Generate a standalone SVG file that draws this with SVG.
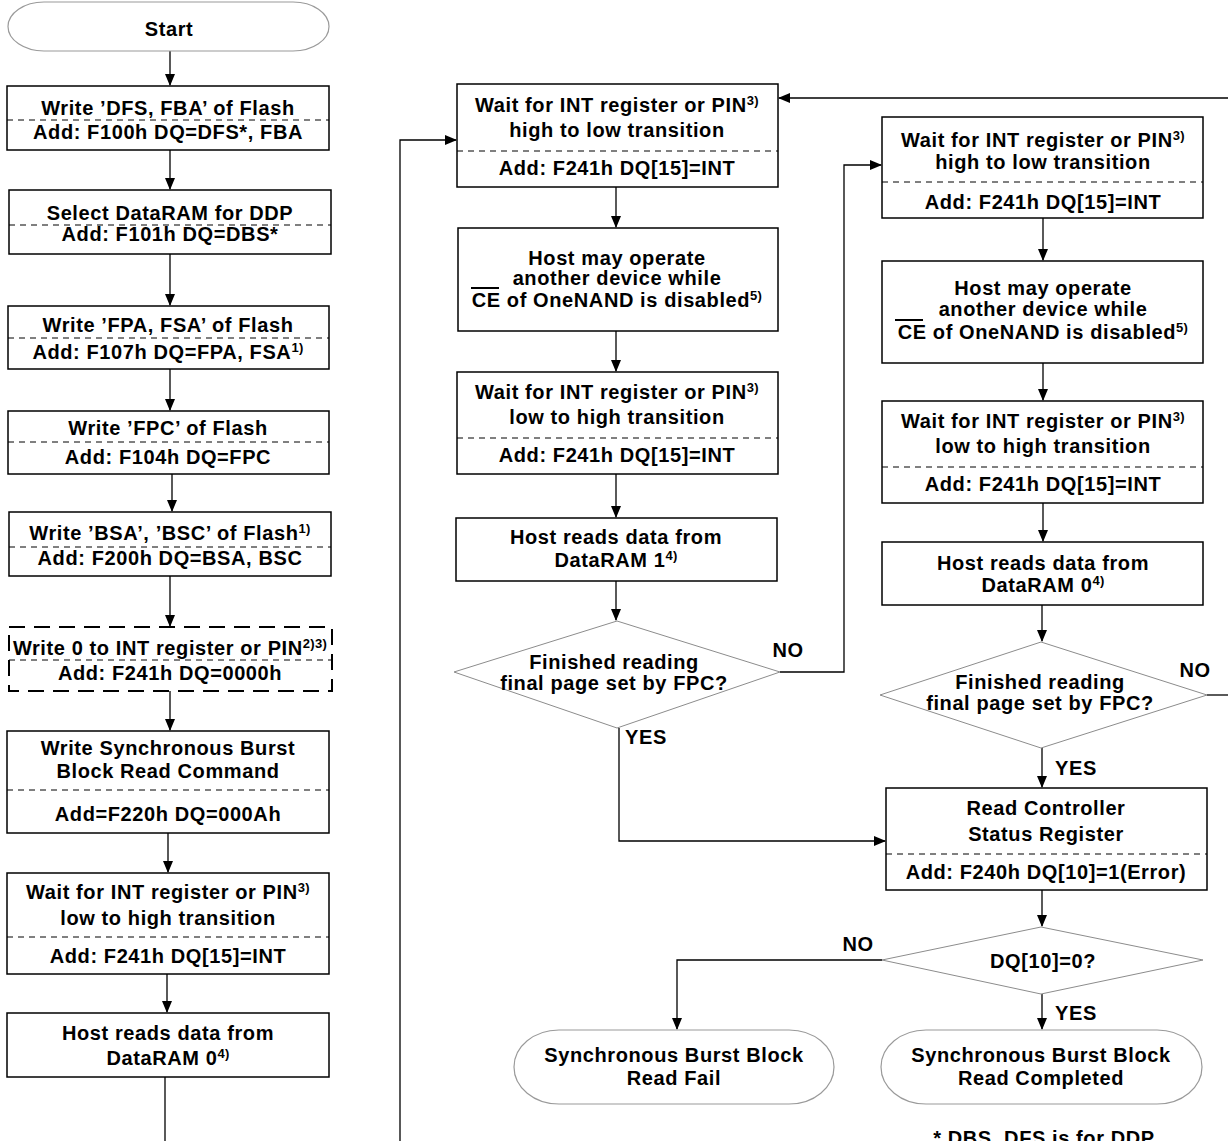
<svg xmlns="http://www.w3.org/2000/svg" width="1228" height="1141" viewBox="0 0 1228 1141">
<style>
.box{fill:#fff;stroke:#000;stroke-width:1.5}
.dbox{fill:#fff;stroke:#000;stroke-width:2;stroke-dasharray:16 9}
.sep{stroke:#000;stroke-width:1;stroke-dasharray:6 5;fill:none}
.term{fill:#fff;stroke:#9a9a9a;stroke-width:1.2}
.dia{fill:#fff;stroke:#8c8c8c;stroke-width:1}
.t{font-family:"Liberation Sans",Arial,Helvetica,sans-serif;font-weight:bold;font-size:20px;letter-spacing:0.6px;text-anchor:middle;fill:#000}
.l{text-anchor:start}
.sup{font-size:13px;letter-spacing:0.3px}
.conn{fill:none;stroke:#000;stroke-width:1.3}
.ov{stroke:#000;stroke-width:2}
</style>
<defs>
<marker id="arr" markerUnits="userSpaceOnUse" markerWidth="12" markerHeight="10" refX="11" refY="5" orient="auto">
<path d="M0,0 L12,5 L0,10 Z" fill="#000"/>
</marker>
</defs>

<g id="connectors">
<path class="conn" d="M170 51 V85" marker-end="url(#arr)"/>
<path class="conn" d="M170 150 V189" marker-end="url(#arr)"/>
<path class="conn" d="M170 254 V305" marker-end="url(#arr)"/>
<path class="conn" d="M170 369 V410" marker-end="url(#arr)"/>
<path class="conn" d="M172 474 V511" marker-end="url(#arr)"/>
<path class="conn" d="M170 576 V626" marker-end="url(#arr)"/>
<path class="conn" d="M170 691 V730" marker-end="url(#arr)"/>
<path class="conn" d="M168 833 V872" marker-end="url(#arr)"/>
<path class="conn" d="M167 974 V1012" marker-end="url(#arr)"/>
<path class="conn" d="M165 1077 V1141"/>
<path class="conn" d="M400 1141 V140 H456" marker-end="url(#arr)"/>
<path class="conn" d="M1228 98 H779" marker-end="url(#arr)"/>
<path class="conn" d="M1207 695 H1228"/>
<path class="conn" d="M616 187 V227" marker-end="url(#arr)"/>
<path class="conn" d="M616 331 V371" marker-end="url(#arr)"/>
<path class="conn" d="M616 474 V517" marker-end="url(#arr)"/>
<path class="conn" d="M616 581 V620" marker-end="url(#arr)"/>
<path class="conn" d="M780 672 H844 V165 H881" marker-end="url(#arr)"/>
<path class="conn" d="M619 728 V841 H885" marker-end="url(#arr)"/>
<path class="conn" d="M1043 218 V260" marker-end="url(#arr)"/>
<path class="conn" d="M1043 363 V400" marker-end="url(#arr)"/>
<path class="conn" d="M1043 503 V541" marker-end="url(#arr)"/>
<path class="conn" d="M1042 605 V641" marker-end="url(#arr)"/>
<path class="conn" d="M1042 748 V787" marker-end="url(#arr)"/>
<path class="conn" d="M1042 890 V926" marker-end="url(#arr)"/>
<path class="conn" d="M882 960 H677 V1029" marker-end="url(#arr)"/>
<path class="conn" d="M1042 994 V1029" marker-end="url(#arr)"/>
</g>

<g id="start">
<rect class="term" x="8" y="2" width="321" height="49" rx="36" ry="24.5"/>
<text class="t" x="169" y="36">Start</text>
</g>

<g id="b1">
<rect class="box" x="7" y="86" width="322" height="64"/>
<line class="sep" x1="7" y1="120" x2="329" y2="120"/>
<text class="t" x="168" y="115">Write ’DFS, FBA’ of Flash</text>
<text class="t" x="168" y="139">Add: F100h DQ=DFS*, FBA</text>
</g>

<g id="b2">
<rect class="box" x="9" y="190" width="322" height="64"/>
<line class="sep" x1="9" y1="225" x2="331" y2="225"/>
<text class="t" x="170" y="220">Select DataRAM for DDP</text>
<text class="t" x="170" y="241">Add: F101h DQ=DBS*</text>
</g>

<g id="b3">
<rect class="box" x="8" y="306" width="321" height="63"/>
<line class="sep" x1="8" y1="338" x2="329" y2="338"/>
<text class="t" x="168" y="332">Write ’FPA, FSA’ of Flash</text>
<text class="t" x="168" y="359">Add: F107h DQ=FPA, FSA<tspan class="sup" dy="-7">1)</tspan></text>
</g>

<g id="b4">
<rect class="box" x="8" y="411" width="321" height="63"/>
<line class="sep" x1="8" y1="442" x2="329" y2="442"/>
<text class="t" x="168" y="435">Write ’FPC’ of Flash</text>
<text class="t" x="168" y="464">Add: F104h DQ=FPC</text>
</g>

<g id="b5">
<rect class="box" x="9" y="512" width="322" height="64"/>
<line class="sep" x1="9" y1="547" x2="331" y2="547"/>
<text class="t" x="170" y="540">Write ’BSA’, ’BSC’ of Flash<tspan class="sup" dy="-7">1)</tspan></text>
<text class="t" x="170" y="565">Add: F200h DQ=BSA, BSC</text>
</g>

<g id="b6">
<rect class="dbox" x="9" y="627" width="323" height="64"/>
<line class="sep" x1="9" y1="660" x2="332" y2="660"/>
<text class="t" x="170" y="655">Write 0 to INT register or PIN<tspan class="sup" dy="-7">2)3)</tspan></text>
<text class="t" x="170" y="680">Add: F241h DQ=0000h</text>
</g>

<g id="b7">
<rect class="box" x="7" y="731" width="322" height="102"/>
<line class="sep" x1="7" y1="790" x2="329" y2="790"/>
<text class="t" x="168" y="755">Write Synchronous Burst</text>
<text class="t" x="168" y="778">Block Read Command</text>
<text class="t" x="168" y="821">Add=F220h DQ=000Ah</text>
</g>

<g id="b8">
<rect class="box" x="7" y="873" width="322" height="101"/>
<line class="sep" x1="7" y1="937" x2="329" y2="937"/>
<text class="t" x="168" y="899">Wait for INT register or PIN<tspan class="sup" dy="-7">3)</tspan></text>
<text class="t" x="168" y="925">low to high transition</text>
<text class="t" x="168" y="963">Add: F241h DQ[15]=INT</text>
</g>

<g id="b9">
<rect class="box" x="7" y="1013" width="322" height="64"/>
<text class="t" x="168" y="1040">Host reads data from</text>
<text class="t" x="168" y="1065">DataRAM 0<tspan class="sup" dy="-7">4)</tspan></text>
</g>

<g id="m1">
<rect class="box" x="457" y="84" width="321" height="103"/>
<line class="sep" x1="457" y1="151" x2="778" y2="151"/>
<text class="t" x="617" y="112">Wait for INT register or PIN<tspan class="sup" dy="-7">3)</tspan></text>
<text class="t" x="617" y="137">high to low transition</text>
<text class="t" x="617" y="175">Add: F241h DQ[15]=INT</text>
</g>

<g id="m2">
<rect class="box" x="458" y="228" width="320" height="103"/>
<text class="t" x="617" y="265">Host may operate</text>
<text class="t" x="617" y="285">another device while</text>
<text class="t" x="617" y="307">CE of OneNAND is disabled<tspan class="sup" dy="-7">5)</tspan></text>
<line class="ov" x1="471" y1="288" x2="499" y2="288"/>
</g>

<g id="m3">
<rect class="box" x="457" y="372" width="321" height="102"/>
<line class="sep" x1="457" y1="438" x2="778" y2="438"/>
<text class="t" x="617" y="399">Wait for INT register or PIN<tspan class="sup" dy="-7">3)</tspan></text>
<text class="t" x="617" y="424">low to high transition</text>
<text class="t" x="617" y="462">Add: F241h DQ[15]=INT</text>
</g>

<g id="m4">
<rect class="box" x="456" y="518" width="321" height="63"/>
<text class="t" x="616" y="544">Host reads data from</text>
<text class="t" x="616" y="567">DataRAM 1<tspan class="sup" dy="-7">4)</tspan></text>
</g>

<g id="d1">
<polygon class="dia" points="617,621 780,672 617,728 454,672"/>
<text class="t" x="614" y="669">Finished reading</text>
<text class="t" x="614" y="690">final page set by FPC?</text>
<text class="t" x="788" y="657">NO</text>
<text class="t l" x="625" y="744">YES</text>
</g>

<g id="r1">
<rect class="box" x="882" y="117" width="321" height="101"/>
<line class="sep" x1="882" y1="182" x2="1203" y2="182"/>
<text class="t" x="1043" y="147">Wait for INT register or PIN<tspan class="sup" dy="-7">3)</tspan></text>
<text class="t" x="1043" y="169">high to low transition</text>
<text class="t" x="1043" y="209">Add: F241h DQ[15]=INT</text>
</g>

<g id="r2">
<rect class="box" x="882" y="261" width="321" height="102"/>
<text class="t" x="1043" y="295">Host may operate</text>
<text class="t" x="1043" y="316">another device while</text>
<text class="t" x="1043" y="339">CE of OneNAND is disabled<tspan class="sup" dy="-7">5)</tspan></text>
<line class="ov" x1="895" y1="320" x2="923" y2="320"/>
</g>

<g id="r3">
<rect class="box" x="882" y="401" width="321" height="102"/>
<line class="sep" x1="882" y1="467" x2="1203" y2="467"/>
<text class="t" x="1043" y="428">Wait for INT register or PIN<tspan class="sup" dy="-7">3)</tspan></text>
<text class="t" x="1043" y="453">low to high transition</text>
<text class="t" x="1043" y="491">Add: F241h DQ[15]=INT</text>
</g>

<g id="r4">
<rect class="box" x="882" y="542" width="321" height="63"/>
<text class="t" x="1043" y="570">Host reads data from</text>
<text class="t" x="1043" y="592">DataRAM 0<tspan class="sup" dy="-7">4)</tspan></text>
</g>

<g id="d2">
<polygon class="dia" points="1041,642 1207,695 1041,748 880,695"/>
<text class="t" x="1040" y="689">Finished reading</text>
<text class="t" x="1040" y="710">final page set by FPC?</text>
<text class="t" x="1195" y="677">NO</text>
<text class="t l" x="1055" y="775">YES</text>
</g>

<g id="r5">
<rect class="box" x="886" y="788" width="321" height="102"/>
<line class="sep" x1="886" y1="854" x2="1207" y2="854"/>
<text class="t" x="1046" y="815">Read Controller</text>
<text class="t" x="1046" y="841">Status Register</text>
<text class="t" x="1046" y="879">Add: F240h DQ[10]=1(Error)</text>
</g>

<g id="d3">
<polygon class="dia" points="1041,927 1203,960 1041,994 882,960"/>
<text class="t" x="1043" y="968">DQ[10]=0?</text>
<text class="t" x="858" y="951">NO</text>
<text class="t l" x="1055" y="1020">YES</text>
</g>

<g id="fail">
<rect class="term" x="514" y="1030" width="320" height="74" rx="45" ry="37"/>
<text class="t" x="674" y="1062">Synchronous Burst Block</text>
<text class="t" x="674" y="1085">Read Fail</text>
</g>

<g id="done">
<rect class="term" x="881" y="1030" width="321" height="74" rx="45" ry="37"/>
<text class="t" x="1041" y="1062">Synchronous Burst Block</text>
<text class="t" x="1041" y="1085">Read Completed</text>
</g>

<g id="note">
<text class="t" x="1044" y="1145">* DBS, DFS is for DDP</text>
</g>
</svg>
